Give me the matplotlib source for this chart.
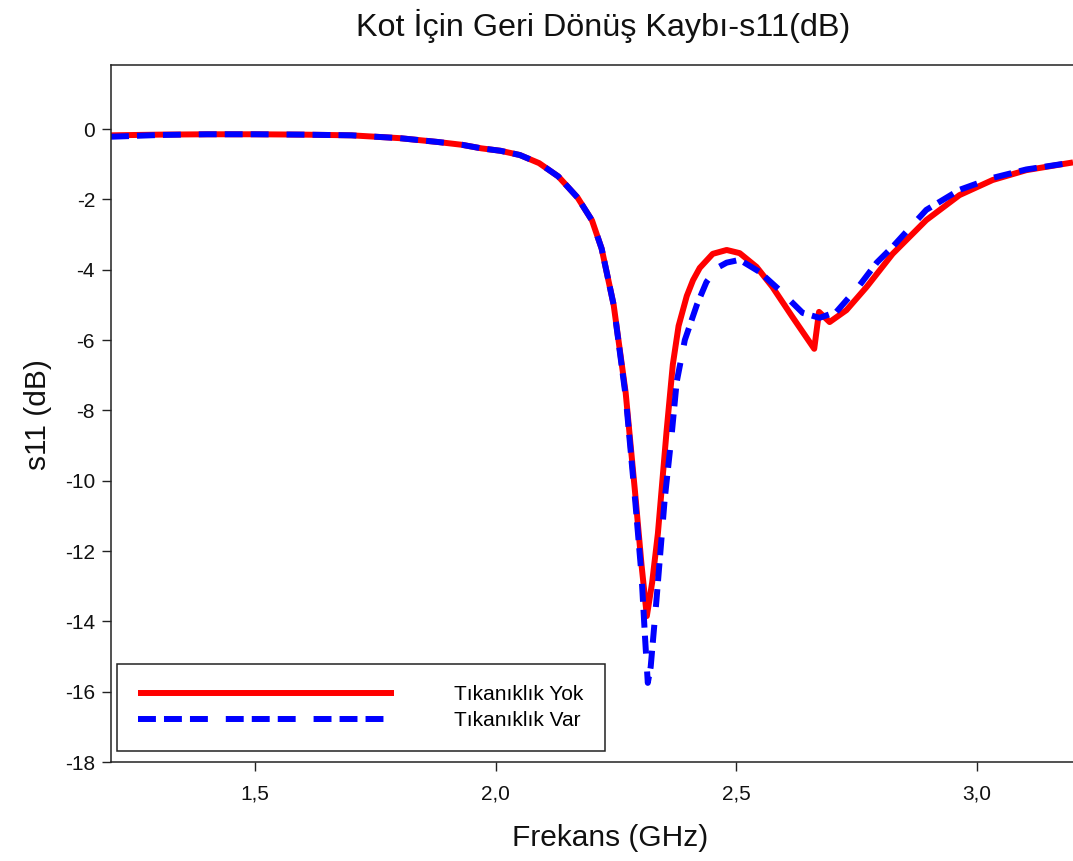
import matplotlib
matplotlib.use("Agg")
import matplotlib.pyplot as plt

# values (GHz, dB)
red_x = [1.20, 1.30, 1.40, 1.50, 1.60, 1.70, 1.80, 1.88, 1.93, 1.97, 2.01, 2.05,
         2.09, 2.13, 2.17, 2.20, 2.22, 2.245, 2.27, 2.29, 2.303, 2.314, 2.325, 2.337,
         2.355, 2.368, 2.38, 2.397, 2.41, 2.424, 2.451, 2.48, 2.507, 2.542, 2.575,
         2.617, 2.662, 2.672, 2.694, 2.729, 2.771, 2.825, 2.895, 2.964, 3.033, 3.103, 3.20]
red_y = [-0.18, -0.16, -0.15, -0.15, -0.16, -0.18, -0.26, -0.37, -0.45, -0.55, -0.62, -0.74,
         -0.97, -1.35, -1.95, -2.6, -3.4, -5.0, -7.5, -10.4, -12.4, -13.85, -12.9, -11.5,
         -8.6, -6.7, -5.6, -4.75, -4.3, -3.95, -3.55, -3.44, -3.53, -3.92, -4.49,
         -5.35, -6.25, -5.2, -5.49, -5.15, -4.49, -3.55, -2.59, -1.88, -1.45, -1.17, -0.95]

blue_x = [1.20, 1.30, 1.40, 1.50, 1.60, 1.70, 1.80, 1.88, 1.93, 1.97, 2.01, 2.05,
          2.09, 2.13, 2.17, 2.20, 2.22, 2.245, 2.27, 2.29, 2.303, 2.310, 2.316, 2.322,
          2.334, 2.351, 2.366, 2.376, 2.393, 2.418, 2.438, 2.46, 2.48, 2.507, 2.548,
          2.59, 2.638, 2.673, 2.708, 2.756, 2.792, 2.825, 2.895, 2.964, 3.033, 3.103, 3.20]
blue_y = [-0.22, -0.17, -0.15, -0.15, -0.16, -0.18, -0.26, -0.37, -0.45, -0.55, -0.62, -0.74,
          -0.97, -1.35, -1.95, -2.6, -3.4, -5.0, -7.6, -10.6, -12.7, -14.4, -15.75, -15.3,
          -13.4, -10.55, -8.64, -7.2, -6.0, -5.0, -4.35, -3.95, -3.8, -3.72, -4.06,
          -4.58, -5.23, -5.37, -5.2, -4.45, -3.8, -3.35, -2.3, -1.73, -1.39, -1.15, -0.95]

series_labels = ["Tıkanıklık Yok", "Tıkanıklık Var"]
x_ticks = [1.5, 2.0, 2.5, 3.0]
x_tick_labels = ["1,5", "2,0", "2,5", "3,0"]
y_ticks = [0, -2, -4, -6, -8, -10, -12, -14, -16, -18]

plt.rcParams["font.family"] = ["Liberation Sans", "DejaVu Sans"]
INK = "#111111"

fig = plt.figure(figsize=(10.73, 8.61), dpi=100)
ax = fig.add_axes([111 / 1073, 1 - 762 / 861, 962 / 1073, 697 / 861])

ax.plot(red_x, red_y, color="#ff0000", lw=4.3, solid_capstyle="butt",
        label=series_labels[0])
ax.plot(blue_x, blue_y, color="#0000ff", lw=4.3, linestyle=(0, (3.0, 1.35, 3.0, 1.35, 3.0, 3.0)),
        label=series_labels[1])

ax.set_xlim(1.2, 3.2)
ax.set_ylim(-18, 1.82)
ax.set_xticks(x_ticks)
ax.set_xticklabels(x_tick_labels)
ax.set_yticks(y_ticks)
ax.set_yticklabels([str(t) for t in y_ticks])

ax.spines["right"].set_visible(False)
for s in ("left", "bottom", "top"):
    ax.spines[s].set_linewidth(1.1)
    ax.spines[s].set_color("#222222")
ax.tick_params(direction="out", length=6.5, width=1.0, labelsize=15, colors="#222222",
               labelcolor=INK)
ax.tick_params(axis="x", pad=10)
ax.tick_params(axis="y", pad=5)

leg = ax.legend(loc="lower left", bbox_to_anchor=(0.0062, 0.0158), borderaxespad=0,
                fontsize=15, handlelength=12.3, handletextpad=2.9, borderpad=1.0,
                labelspacing=0.35, fancybox=False, framealpha=1, edgecolor="#222222")
leg.get_frame().set_linewidth(1.1)

fig.text(603 / 1073, 1 - 26 / 861, "Kot İçin Geri Dönüş Kaybı-s11(dB)", fontsize=23.3,
         ha="center", va="center", color=INK)
fig.text(610 / 1073, 1 - 838 / 861, "Frekans (GHz)", fontsize=21.5,
         ha="center", va="center", color=INK)
fig.text(38 / 1073, 1 - 415 / 861, "s11 (dB)", fontsize=21.5, rotation=90,
         ha="center", va="center", color=INK)

fig.savefig("out.png", dpi=100)
